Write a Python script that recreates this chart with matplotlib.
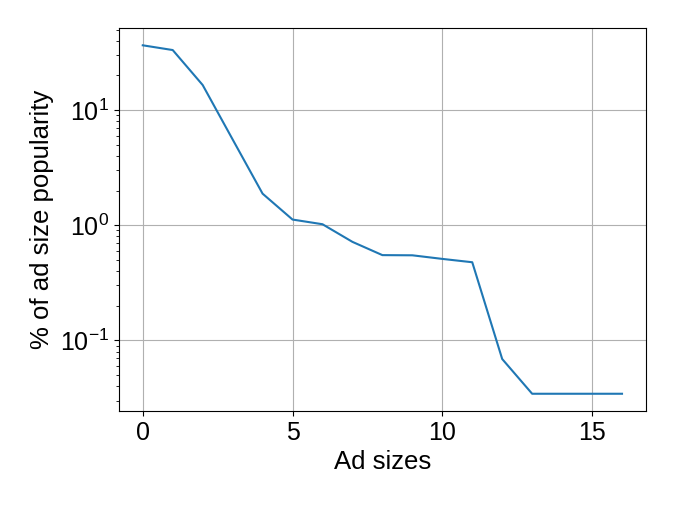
import matplotlib
matplotlib.use("Agg")
import matplotlib.pyplot as plt

plt.rcParams['font.family'] = ['Liberation Sans', 'DejaVu Sans']

ad_sizes = list(range(17))
popularity = [36.5, 33.2, 16.5, 5.56, 1.88, 1.12, 1.02, 0.717, 0.55, 0.548,
              0.51, 0.477, 0.0689, 0.0344, 0.0344, 0.0344, 0.0344]

fig = plt.figure(figsize=(6.75, 5.07), dpi=100)
ax = fig.add_axes([0.176, 0.189, 0.781, 0.756])
ax.plot(ad_sizes, popularity, color='#1f77b4', linewidth=1.5)
ax.set_yscale('log')
ax.grid(True, which='major', color='#b0b0b0', linewidth=0.8)
ax.set_xlabel('Ad sizes', fontsize=18.5)
ax.set_ylabel('% of ad size popularity', fontsize=18.5)
ax.tick_params(axis='both', which='major', labelsize=18)
ax.set_xticks([0, 5, 10, 15])
fig.savefig('out.png', dpi=100)
